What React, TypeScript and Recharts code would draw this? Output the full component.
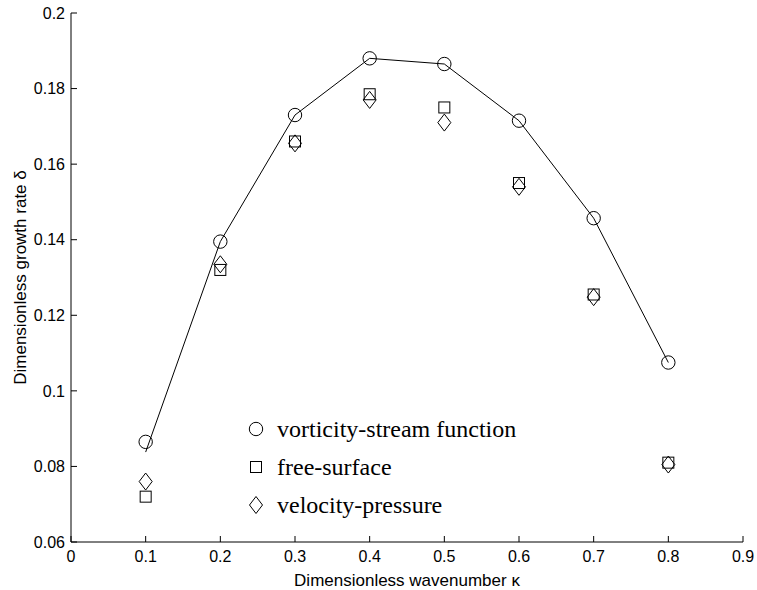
import { ComposedChart, Line, Scatter, XAxis, YAxis, Legend } from "recharts";

// wavenumber kappa for every run
const kappa = [0.1, 0.2, 0.3, 0.4, 0.5, 0.6, 0.7, 0.8];

// growth rate delta
const vorticityStream = [0.0865, 0.1395, 0.173, 0.188, 0.1865, 0.1715, 0.1457, 0.1075];
const freeSurface = [0.072, 0.132, 0.166, 0.1785, 0.175, 0.155, 0.1255, 0.081];
const velocityPressure = [0.076, 0.1335, 0.1655, 0.177, 0.171, 0.154, 0.1248, 0.0805];
// solid reference curve (starts a little below the first circle)
const curve = [0.0838, 0.1395, 0.173, 0.188, 0.1865, 0.1715, 0.1457, 0.1075];

const xTicks = [0, 0.1, 0.2, 0.3, 0.4, 0.5, 0.6, 0.7, 0.8, 0.9];
const yTicks = [0.06, 0.08, 0.1, 0.12, 0.14, 0.16, 0.18, 0.2];

const xTitle = "Dimensionless wavenumber κ";
const yTitle = "Dimensionless growth rate δ";

const toPoints = (ys: number[]) => kappa.map((x, i) => ({ x, y: ys[i] }));

const fmt = (v: number) => String(+v.toFixed(2));

const SANS = "'Liberation Sans', Arial, sans-serif";
const SERIF = "'Liberation Serif', 'Times New Roman', serif";

function CircleMark(props: any) {
  const { cx, cy } = props;
  if (cx == null || cy == null) return null;
  return <circle cx={cx} cy={cy} r={6.7} fill="none" stroke="#000" strokeWidth={1} />;
}

function SquareMark(props: any) {
  const { cx, cy } = props;
  if (cx == null || cy == null) return null;
  return <rect x={cx - 5.5} y={cy - 5.5} width={11} height={11} fill="none" stroke="#000" strokeWidth={1} />;
}

function DiamondMark(props: any) {
  const { cx, cy } = props;
  if (cx == null || cy == null) return null;
  const pts = `${cx},${cy - 8.5} ${cx + 6.5},${cy} ${cx},${cy + 8.5} ${cx - 6.5},${cy}`;
  return <polygon points={pts} fill="none" stroke="#000" strokeWidth={1} />;
}

const series = [
  { name: "vorticity-stream function", values: vorticityStream, Mark: CircleMark },
  { name: "free-surface", values: freeSurface, Mark: SquareMark },
  { name: "velocity-pressure", values: velocityPressure, Mark: DiamondMark },
];

function LegendBox() {
  return (
    <div style={{ fontFamily: SERIF, fontSize: 24, color: "#000" }}>
      {series.map(({ name, Mark }) => (
        <div key={name} style={{ display: "flex", alignItems: "center", height: 38 }}>
          <svg width={20} height={20} style={{ display: "block" }}>
            <Mark cx={10} cy={10} />
          </svg>
          <span style={{ marginLeft: 11, whiteSpace: "nowrap" }}>{name}</span>
        </div>
      ))}
    </div>
  );
}

export default function App() {
  return (
    <div style={{ position: "absolute", left: 0, top: 0, background: "#fff" }}>
      <ComposedChart
        width={757}
        height={590}
        margin={{ top: 13, right: 14, bottom: 18, left: 11 }}
      >
        <XAxis
          type="number"
          dataKey="x"
          domain={[0, 0.9]}
          ticks={xTicks}
          tickFormatter={fmt}
          height={30}
          stroke="#000"
          tickSize={-6}
          tickMargin={15}
          tick={{ fill: "#000", fontSize: 16, fontFamily: SANS }}
          interval={0}
          label={(p: any) => {
            const vb = p.viewBox;
            return (
              <text
                x={vb.x + vb.width / 2}
                y={580}
                textAnchor="middle"
                dominantBaseline="central"
                fontFamily={SANS}
                fontSize={17}
                fill="#000"
              >
                {xTitle}
              </text>
            );
          }}
        />
        <YAxis
          type="number"
          domain={[0.06, 0.2]}
          ticks={yTicks}
          tickFormatter={fmt}
          width={60}
          stroke="#000"
          tickSize={-6}
          tickMargin={12}
          tick={{ fill: "#000", fontSize: 16, fontFamily: SANS }}
          interval={0}
          label={(p: any) => {
            const vb = p.viewBox;
            const cy = vb.y + vb.height / 2;
            return (
              <text
                x={20}
                y={cy}
                transform={`rotate(-90 20 ${cy})`}
                textAnchor="middle"
                dominantBaseline="central"
                fontFamily={SANS}
                fontSize={17}
                fill="#000"
              >
                {yTitle}
              </text>
            );
          }}
        />
        <Legend
          layout="vertical"
          align="center"
          verticalAlign="middle"
          content={() => <LegendBox />}
          wrapperStyle={{ left: 246, top: 410, width: 330 }}
        />
        <Line
          data={toPoints(curve)}
          dataKey="y"
          type="linear"
          dot={false}
          stroke="#000"
          strokeWidth={1}
          legendType="none"
          isAnimationActive={false}
        />
        {series.map(({ name, values, Mark }) => (
          <Scatter
            key={name}
            name={name}
            data={toPoints(values)}
            dataKey="y"
            shape={(p: any) => <Mark {...p} />}
            isAnimationActive={false}
          />
        ))}
      </ComposedChart>
    </div>
  );
}
